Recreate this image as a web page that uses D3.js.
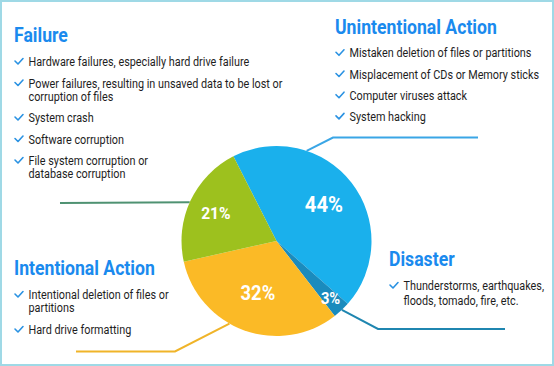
<!DOCTYPE html>
<html>
<head>
<meta charset="utf-8">
<script src="https://cdn.jsdelivr.net/npm/d3@7"></script>
<style>
  html, body { margin: 0; padding: 0; background: #fff; }
  svg { display: block; }
  .t { font-family: "Roboto", "Liberation Sans", sans-serif; }
</style>
</head>
<body>
<svg id="chart" width="554" height="366"></svg>
<script>
// ---- data ----
const categories = ["Unintentional Action", "Disaster", "Intentional Action", "Failure"];
const values = [44, 3, 32, 21];
const valueLabels = ["44%", "3%", "32%", "21%"];
const failureItems = [
  ["Hardware failures, especially hard drive failure"],
  ["Power failures, resulting in unsaved data to be lost or", "corruption of files"],
  ["System crash"],
  ["Software corruption"],
  ["File system corruption or", "database corruption"]
];
const unintentionalItems = [
  ["Mistaken deletion of files or partitions"],
  ["Misplacement of CDs or Memory sticks"],
  ["Computer viruses attack"],
  ["System hacking"]
];
const intentionalItems = [
  ["Intentional deletion of files or", "partitions"],
  ["Hard drive formatting"]
];
const disasterItems = [
  ["Thunderstorms, earthquakes,", "floods, tomado, fire, etc."]
];

// ---- styles / layout ----
const colors = d3.scaleOrdinal().domain(categories)
  .range(["#1ab0ec", "#1a8bbd", "#fbba26", "#9dc11e"]);
const lineColors = { "Unintentional Action": "#3aa6e6", "Disaster": "#1f86b0", "Intentional Action": "#f0b429", "Failure": "#4f9272" };
const titleColor = "#1a8aee";
const textColor = "#1e1e1e";
const cx = 276.5, cy = 241, R = 95;
const labelStyle = {
  "Unintentional Action": { r: 60, size: 22 },
  "Disaster": { r: 79, size: 16 },
  "Intentional Action": { r: 55, size: 20 },
  "Failure": { r: 67, size: 17 }
};
const BODY_SIZE = 12.4, TITLE_SIZE = 19.5, LABEL_K = 0.92;

const svg = d3.select("#chart");

// measure helper for condensed look
function measure(str, size, weight) {
  const t = svg.append("text").attr("class", "t").attr("font-size", size)
    .attr("font-weight", weight).text(str);
  const w = t.node().getComputedTextLength();
  t.remove();
  return w;
}
const kBody = 221 / measure("Hardware failures, especially hard drive failure", BODY_SIZE, "normal");
const kTitle = 162 / measure("Unintentional Action", TITLE_SIZE, "bold");

// border
svg.append("rect").attr("x", 1).attr("y", 1).attr("width", 552).attr("height", 364)
  .attr("fill", "#fff").attr("stroke", "#9fd9e6").attr("stroke-width", 2);

const deg = Math.PI / 180;
const pie = d3.pie().sort(null).startAngle(-27 * deg).endAngle(333 * deg);
const arcs = pie(values).map((a, i) => Object.assign(a, { cat: categories[i], label: valueLabels[i] }));
const arc = d3.arc().innerRadius(0).outerRadius(R);

function edge(angleDeg) {
  const a = angleDeg * deg;
  return [cx + R * Math.sin(a), cy - R * Math.cos(a)];
}

// leader lines (drawn under the pie)
const leaders = [
  { cat: "Unintentional Action", start: edge(18.5), pts: [[333, 137.5], [478, 137.5]] },
  { cat: "Failure", start: edge(294), pts: [[60, 203]] },
  { cat: "Intentional Action", start: edge(209.7), pts: [[175, 351.5], [76, 351.5]] },
  { cat: "Disaster", start: edge(136.5), pts: [[378, 329], [505, 329]] }
];
svg.append("g").selectAll("path").data(leaders).join("path")
  .attr("d", d => d3.line()([d.start, ...d.pts]))
  .attr("fill", "none")
  .attr("stroke", d => lineColors[d.cat])
  .attr("stroke-width", 2);

const g = svg.append("g").attr("transform", `translate(${cx},${cy})`);
g.selectAll("path").data(arcs).join("path")
  .attr("d", arc)
  .attr("fill", d => colors(d.cat));

g.selectAll("text").data(arcs).join("text")
  .attr("class", "t")
  .attr("transform", d => {
    const s = labelStyle[d.cat];
    const c = d3.arc().innerRadius(s.r).outerRadius(s.r).centroid(d);
    return `translate(${c[0]},${c[1]}) scale(${LABEL_K},1)`;
  })
  .attr("text-anchor", "middle")
  .attr("dy", "0.36em")
  .attr("fill", "#fff")
  .attr("font-weight", "bold")
  .attr("font-size", d => labelStyle[d.cat].size)
  .text(d => d.label);

// text blocks
function block(title, items, x, titleY, firstY, itemGap, lineGap) {
  const b = svg.append("g");
  b.append("text").attr("class", "t")
    .attr("transform", `translate(${x},${titleY}) scale(${kTitle},1)`)
    .attr("fill", titleColor).attr("font-weight", "bold").attr("font-size", TITLE_SIZE)
    .text(title);
  let y = firstY;
  items.forEach(lines => {
    b.append("path")
      .attr("d", `M${x + 1},${y - 5} L${x + 4},${y - 2} L${x + 9},${y - 7.5}`)
      .attr("fill", "none").attr("stroke", "#2a92e2").attr("stroke-width", 1.6)
      .attr("stroke-linecap", "round").attr("stroke-linejoin", "round");
    lines.forEach((ln, j) => {
      b.append("text").attr("class", "t")
        .attr("transform", `translate(${x + 14.5},${y + j * lineGap}) scale(${kBody},1)`)
        .attr("fill", textColor).attr("font-size", BODY_SIZE).text(ln);
    });
    y += (lines.length - 1) * lineGap + itemGap;
  });
}
block("Failure", failureItems, 14, 41.5, 66, 21.5, 13);
block("Unintentional Action", unintentionalItems, 335, 33.5, 57.3, 21.2, 13);
block("Intentional Action", intentionalItems, 14, 275, 299, 22, 13);
block("Disaster", disasterItems, 389, 266, 290, 21, 14.5);
</script>
</body>
</html>
